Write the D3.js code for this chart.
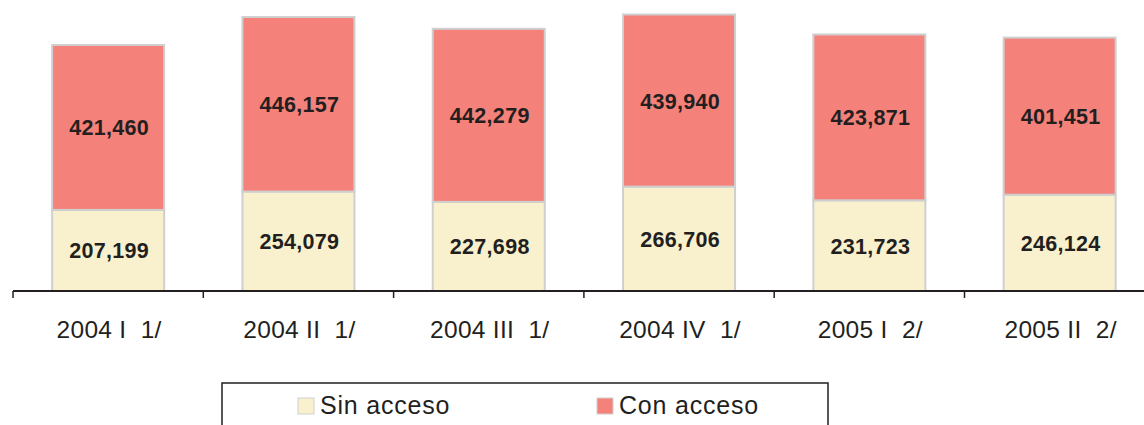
<!DOCTYPE html>
<html><head><meta charset="utf-8">
<script src="https://cdn.jsdelivr.net/npm/d3@7"></script>
<style>body{margin:0;background:#fff}svg{display:block}</style>
</head><body>
<svg id="c" width="1144" height="425"></svg>
<script>
const categories = ["2004 I  1/", "2004 II  1/", "2004 III  1/", "2004 IV  1/", "2005 I  2/", "2005 II  2/"];
const sinAcceso = [207199, 254079, 227698, 266706, 231723, 246124];
const conAcceso = [421460, 446157, 442279, 439940, 423871, 401451];
const seriesNames = ["Sin acceso", "Con acceso"];
const colors = ["#F9F1CE", "#F4817A"];

const svg = d3.select("#c");
const fmt = d3.format(",");
const axisY = 291;
const x = d3.scaleBand().domain(categories).range([13, 13 + 190.3 * 6]).paddingInner(0).paddingOuter(0);
const y = d3.scaleLinear().domain([0, 740000]).range([axisY, axisY - 740000 * 3.913e-4]);
const barW = 112;
const font = "Liberation Sans, Arial, Helvetica, sans-serif";

const rows = categories.map((c, i) => ({cat: c, sin: sinAcceso[i], con: conAcceso[i]}));
const stack = d3.stack().keys(["sin", "con"])(rows);

const g = svg.append("g");
stack.forEach((layer, li) => {
  g.selectAll(null).data(layer).enter().append("rect")
    .attr("x", d => x(d.data.cat) + x.bandwidth() / 2 - barW / 2)
    .attr("y", d => y(d[1]))
    .attr("width", barW)
    .attr("height", d => y(d[0]) - y(d[1]))
    .attr("fill", colors[li])
    .attr("stroke", "#cfcfcf")
    .attr("stroke-width", 2);
});
stack.forEach((layer, li) => {
  g.selectAll(null).data(layer).enter().append("text")
    .attr("x", d => x(d.data.cat) + x.bandwidth() / 2 + 1)
    .attr("y", d => (y(d[0]) + y(d[1])) / 2 + 8)
    .attr("text-anchor", "middle")
    .attr("font-family", font)
    .attr("font-weight", "bold")
    .attr("font-size", 21.5)
    .attr("letter-spacing", 0.3)
    .attr("fill", "#231f20")
    .text(d => fmt(d[1] - d[0]));
});

// axis
const ax = svg.append("g").attr("transform", `translate(0,${axisY})`);
ax.append("line").attr("x1", 13).attr("x2", 1144).attr("y1", 0).attr("y2", 0)
  .attr("stroke", "#231f20").attr("stroke-width", 2);
ax.selectAll(null).data(categories).enter().append("line")
  .attr("x1", d => x(d)).attr("x2", d => x(d)).attr("y1", 0).attr("y2", 7)
  .attr("stroke", "#231f20").attr("stroke-width", 1.5);
ax.selectAll(null).data(categories).enter().append("text")
  .attr("x", d => x(d) + x.bandwidth() / 2 + 1)
  .attr("y", 47)
  .attr("text-anchor", "middle")
  .attr("font-family", font)
  .attr("font-size", 24.5)
  .attr("letter-spacing", 0.3)
  .attr("fill", "#231f20")
  .style("white-space", "pre")
  .text(d => d);

// legend
const lg = svg.append("g");
lg.append("rect").attr("x", 222).attr("y", 383).attr("width", 606).attr("height", 60)
  .attr("fill", "#fff").attr("stroke", "#231f20").attr("stroke-width", 1.5);
const lx = [298, 597];
seriesNames.forEach((n, i) => {
  lg.append("rect").attr("x", lx[i]).attr("y", 398).attr("width", 16).attr("height", 16)
    .attr("fill", colors[i]).attr("stroke", "#cfcfcf").attr("stroke-width", 1);
  lg.append("text").attr("x", lx[i] + 22).attr("y", 414)
    .attr("font-family", font).attr("font-size", 25)
    .attr("letter-spacing", 0.8)
    .attr("fill", "#231f20").text(n);
});
</script>
</body></html>
